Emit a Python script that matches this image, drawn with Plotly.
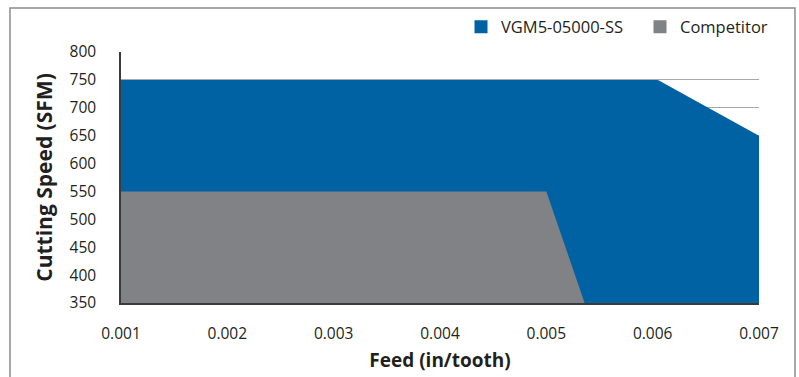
import plotly.graph_objects as go

# Feed (in/tooth) vs cutting speed (SFM) operating windows
vgm_feed = [0.001, 0.00605, 0.007]
vgm_speed = [750, 750, 650]
comp_feed = [0.001, 0.005, 0.00536]
comp_speed = [550, 550, 350]

series_names = ["VGM5-05000-SS", "Competitor"]
x_ticks = [0.001, 0.002, 0.003, 0.004, 0.005, 0.006, 0.007]
y_ticks = [350, 400, 450, 500, 550, 600, 650, 700, 750, 800]

BLUE = "#0061a3"
GRAY = "#818285"
FONT = "Open Sans"

fig = go.Figure()

fig.add_trace(go.Scatter(
    x=vgm_feed, y=vgm_speed, mode="lines", line=dict(width=0, color=BLUE),
    fill="tozeroy", fillcolor=BLUE, showlegend=False, hoverinfo="skip"))
fig.add_trace(go.Scatter(
    x=comp_feed, y=comp_speed, mode="lines", line=dict(width=0, color=GRAY),
    fill="tozeroy", fillcolor=GRAY, showlegend=False, hoverinfo="skip"))

# Legend entries as square swatches, one legend box per series
for name, col, lg in zip(series_names, [BLUE, GRAY], ["legend", "legend2"]):
    fig.add_trace(go.Scatter(
        x=[None], y=[None], mode="markers", name=name, legend=lg,
        marker=dict(symbol="square", size=13, color=col)))

legend_common = dict(orientation="h", xref="container", yref="container",
                     xanchor="left", y=0.928, yanchor="middle",
                     font=dict(size=16.5), itemwidth=30,
                     bgcolor="rgba(0,0,0,0)")

fig.update_layout(
    width=799, height=377,
    margin=dict(l=121, r=40, t=52, b=74, autoexpand=False),
    paper_bgcolor="white", plot_bgcolor="white",
    font=dict(family=FONT, size=15.5, color="#231f20"),
    legend=dict(x=461 / 799, **legend_common),
    legend2=dict(x=640 / 799, **legend_common),
    xaxis=dict(range=[0.001, 0.007], tickvals=x_ticks,
               ticktext=[f"{v:.3f}" for v in x_ticks],
               showgrid=False, zeroline=False, showline=True,
               linecolor="#3a3a3c", linewidth=1.5, ticks="",
               ticklabelstandoff=16,
               title=dict(text="<b>Feed (in/tooth)</b>", font=dict(size=19), standoff=10)),
    yaxis=dict(range=[350, 800], tickvals=y_ticks,
               showgrid=True, gridcolor="#a7a9ac", gridwidth=1.2,
               zeroline=False, showline=True, linecolor="#3a3a3c", linewidth=1.5,
               ticks="", ticklabelstandoff=20,
               title=dict(text="<b>Cutting Speed (SFM)</b>", font=dict(size=21), standoff=11)),
    shapes=[dict(type="path", xref="paper", yref="paper",
                 path="M -0.174,-0.4 L -0.174,1.175 L 1.0564,1.175 L 1.0564,-0.4",
                 line=dict(color="#8c8c8c", width=1.5))],
)

fig.write_html("out.html")
